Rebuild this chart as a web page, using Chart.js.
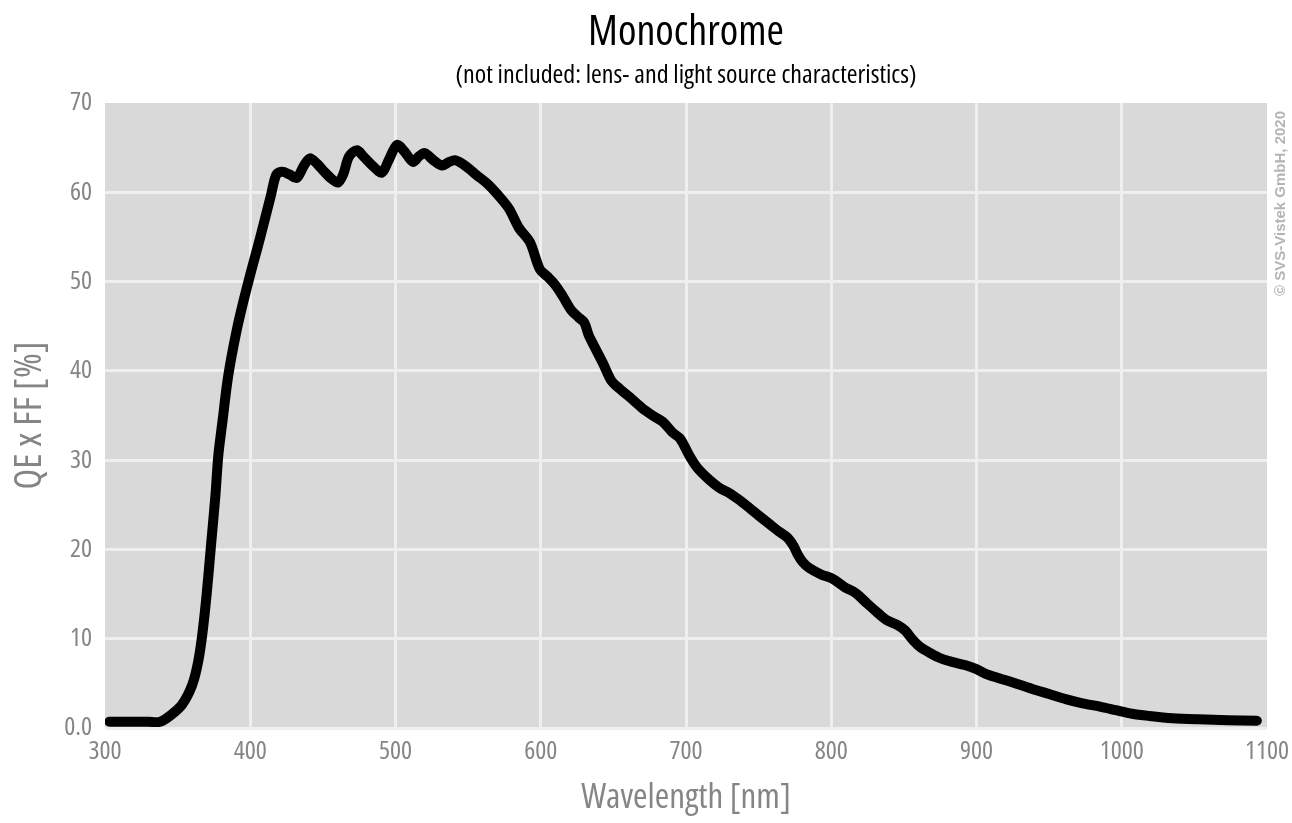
<!DOCTYPE html>
<html>
<head>
<meta charset="utf-8">
<script src="https://cdn.jsdelivr.net/npm/chart.js@4/dist/chart.umd.min.js"></script>
<style>
  html, body { margin: 0; padding: 0; background: #ffffff; }
  #wrap { width: 1292px; height: 823px; }
</style>
</head>
<body>
<div id="wrap"><canvas id="c" width="1292" height="823"></canvas></div>
<script>
const titleText = "Monochrome";
const subtitleText = "(not included: lens- and light source characteristics)";
const xAxisTitle = "Wavelength [nm]";
const yAxisTitle = "QE x FF [%]";
const copyrightText = "\u00a9 SVS-Vistek GmbH, 2020";

const xTicks = [300, 400, 500, 600, 700, 800, 900, 1000, 1100];
const yTicks = [0, 10, 20, 30, 40, 50, 60, 70];

const wavelengths = [
  303, 310, 320, 330, 338, 345, 353, 360, 364, 367, 370, 373, 376, 378, 381, 384, 387, 391, 395, 400,
  405, 409, 414, 418, 422, 427, 432, 437, 441, 446, 451, 456, 460.5, 464, 468, 473.5, 478, 484, 490.7, 495,
  501, 506, 512, 516, 520, 526, 532, 537, 541, 546, 551, 556, 563, 570, 578, 585, 592.6, 599.3, 605, 609.6,
  615, 621, 626, 630, 633, 637, 643, 648.6, 655, 661, 670, 678, 684, 690.7, 696, 702, 708, 716, 723, 730,
  737, 744, 750, 757, 764, 770, 774, 777, 780.3, 785, 793, 801, 809, 817, 825, 832, 838, 846, 851, 856,
  861, 867, 874, 881, 892, 900, 906, 915, 925, 938, 950, 962, 973, 985, 996, 1007, 1019, 1035, 1053, 1073, 1093
];
const qeValues = [
  0.7, 0.7, 0.7, 0.7, 0.7, 1.4, 2.6, 4.8, 7.3, 10.5, 15, 20.5, 26, 30.5, 34.5, 38.5, 41.5, 44.8, 47.6, 50.8,
  53.8, 56.3, 59.5, 62, 62.3, 62, 61.6, 63, 63.8, 63.2, 62.3, 61.5, 61.1, 62, 64, 64.7, 64, 63, 62.2, 63.5,
  65.3, 64.6, 63.4, 64, 64.4, 63.6, 63.0, 63.4, 63.6, 63.2, 62.6, 61.9, 61, 59.8, 58.2, 56, 54.4, 51.4, 50.5, 49.7,
  48.4, 46.8, 46.0, 45.4, 44, 42.7, 40.8, 38.9, 37.9, 37.1, 35.8, 34.9, 34.3, 33.1, 32.4, 30.6, 29.1, 27.8, 26.9, 26.3,
  25.5, 24.6, 23.8, 22.9, 22.0, 21.3, 20.4, 19.4, 18.6, 17.9, 17.2, 16.7, 15.8, 15.1, 13.9, 12.9, 12.1, 11.5, 10.9, 9.9,
  9.1, 8.5, 7.9, 7.5, 7.05, 6.6, 6.1, 5.6, 5.1, 4.4, 3.8, 3.2, 2.76, 2.4, 2.0, 1.6, 1.35, 1.1, 0.97, 0.88, 0.82
];

const FONT = "'Open Sans', sans-serif";
const STRETCH = 'condensed'; // injected into the canvas font shorthand
const GRAY = "#858585";
const GRID = "#efefef";

const points = wavelengths.map((w, i) => ({ x: w, y: qeValues[i] }));

const plotBg = {
  id: 'plotBg',
  beforeDraw(chart) {
    const { ctx, chartArea: a } = chart;
    ctx.save();
    ctx.fillStyle = '#d9d9d9';
    ctx.fillRect(a.left, a.top, a.right - a.left, a.bottom - a.top);
    ctx.restore();
  }
};

const copyright = {
  id: 'copyright',
  afterDraw(chart) {
    const { ctx } = chart;
    ctx.save();
    ctx.translate(1281, 296);
    ctx.rotate(-Math.PI / 2);
    ctx.fillStyle = '#b4b4b4';
    ctx.font = "bold 15px 'Liberation Sans', Arial, sans-serif";
    ctx.textAlign = 'left';
    ctx.textBaseline = 'middle';
    ctx.fillText(copyrightText, 0, 0);
    ctx.restore();
  }
};

new Chart(document.getElementById('c'), {
  type: 'scatter',
  data: {
    datasets: [{
      data: points,
      showLine: true,
      borderColor: '#000000',
      backgroundColor: '#000000',
      borderWidth: 10,
      pointRadius: 0,
      pointHoverRadius: 0,
      tension: 0.3,
      borderCapStyle: 'round',
      borderJoinStyle: 'round'
    }]
  },
  options: {
    responsive: false,
    animation: false,
    layout: { padding: { top: 8, right: 25, left: 0, bottom: 0 } },
    plugins: {
      legend: { display: false },
      tooltip: { enabled: false },
      title: {
        display: true,
        text: titleText,
        fullSize: false,
        color: '#000000',
        font: { family: FONT, size: 42, weight: STRETCH, lineHeight: 1.2 },
        padding: { top: 0, bottom: 2 }
      },
      subtitle: {
        display: true,
        text: subtitleText,
        fullSize: false,
        color: '#000000',
        font: { family: FONT, size: 26, weight: STRETCH, lineHeight: 1.2 },
        padding: { top: 0, bottom: 11.4 }
      }
    },
    scales: {
      x: {
        type: 'linear',
        min: 300,
        max: 1100,
        afterBuildTicks(scale) { scale.ticks = xTicks.map(v => ({ value: v })); },
        afterFit(scale) { scale.height = 95; scale.paddingLeft = 0; scale.paddingRight = 0; },
        grid: {
          color: c => (c.tick && (c.tick.value === 300 || c.tick.value === 1100) ? 'rgba(0,0,0,0)' : GRID),
          lineWidth: 3,
          drawTicks: false
        },
        border: { display: false },
        ticks: {
          color: GRAY,
          padding: 8,
          maxRotation: 0,
          font: { family: FONT, size: 26, weight: STRETCH },
          callback: v => String(v)
        },
        title: {
          display: true,
          text: xAxisTitle,
          color: GRAY,
          font: { family: FONT, size: 35, weight: STRETCH },
          padding: { top: 4, bottom: 4 }
        }
      },
      y: {
        type: 'linear',
        min: 0,
        max: 70,
        afterBuildTicks(scale) { scale.ticks = yTicks.map(v => ({ value: v })); },
        afterFit(scale) { scale.width = 105; scale.paddingTop = 0; scale.paddingBottom = 0; },
        grid: {
          color: c => (c.tick && c.tick.value === 70 ? 'rgba(0,0,0,0)' : GRID),
          lineWidth: 3,
          drawTicks: false
        },
        border: { display: false },
        ticks: {
          color: GRAY,
          padding: 13,
          font: { family: FONT, size: 26, weight: STRETCH },
          callback: v => (v === 0 ? '0.0' : String(v))
        },
        title: {
          display: true,
          text: yAxisTitle,
          color: GRAY,
          font: { family: FONT, size: 38, weight: STRETCH },
          padding: { top: 7, bottom: 0 }
        }
      }
    }
  },
  plugins: [plotBg, copyright]
});
</script>
</body>
</html>
